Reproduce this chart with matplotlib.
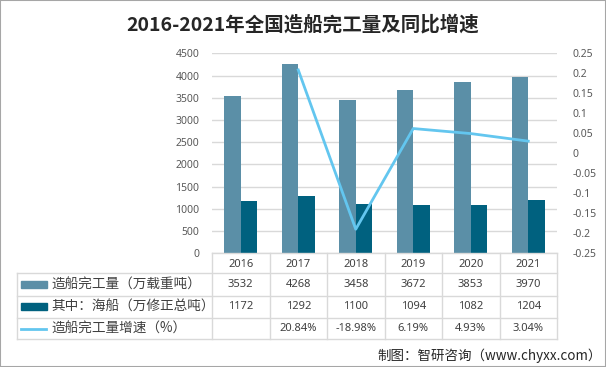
import numpy as np
import matplotlib.pyplot as plt
from matplotlib.lines import Line2D
from matplotlib.patches import Rectangle

plt.rcParams['font.family'] = ['Noto Sans CJK SC', 'DejaVu Sans']

# data
years = ['2016', '2017', '2018', '2019', '2020', '2021']
output = [3532, 4268, 3458, 3672, 3853, 3970]
ocean = [1172, 1292, 1100, 1094, 1082, 1204]
growth = [None, 0.2084, -0.1898, 0.0619, 0.0493, 0.0304]
growth_lbl = ['', '20.84%', '-18.98%', '6.19%', '4.93%', '3.04%']
names = ['造船完工量（万载重吨）', '其中：海船（万修正总吨）', '造船完工量增速（%）']

c1 = '#5B8FA7'
c2 = '#00617F'
c3 = '#63C6EF'
grid = '#D9D9D9'
txt = '#404040'
num_font = ['Noto Sans', 'DejaVu Sans']

W, H = 606, 367
fig = plt.figure(figsize=(W / 100, H / 100), dpi=100)

def fx(x):
    return x / W

def fy(y):
    return 1 - y / H

# plot area in pixels
L, R, T, B = 212, 557, 53.3, 253.3
ax = fig.add_axes([fx(L), fy(B), fx(R - L), (B - T) / H])
x = np.arange(len(years))
bw = 0.29
ax.bar(x - bw / 2, output, bw, color=c1, zorder=3)
ax.bar(x + bw / 2, ocean, bw, color=c2, zorder=3)
ax.set_xlim(-0.5, len(years) - 0.5)
ax.set_ylim(0, 4500)
ax.set_yticks(np.arange(0, 4501, 500))
ax.yaxis.grid(True, color=grid, lw=1, zorder=0)
ax.set_xticks([])
for s in ax.spines.values():
    s.set_visible(False)
ax.tick_params(axis='y', length=0, labelsize=7.5, labelcolor='#595959', pad=9)

ax2 = ax.twinx()
gx = [i for i, g in enumerate(growth) if g is not None]
gy = [g for g in growth if g is not None]
ax2.plot(gx, gy, color=c3, lw=2, zorder=4)
ax2.set_ylim(-0.25, 0.25)
ticks = np.round(np.arange(-0.25, 0.2501, 0.05), 2)
ax2.set_yticks(ticks)
ax2.set_yticklabels(['%g' % t if abs(t) > 1e-9 else '0' for t in ticks])
for s in ax2.spines.values():
    s.set_visible(False)
ax2.tick_params(axis='y', length=0, labelsize=7.5, labelcolor='#595959', pad=11)
ax2.set_xlim(-0.5, len(years) - 0.5)
for lb in ax.get_yticklabels() + ax2.get_yticklabels():
    lb.set_family(num_font)

# table below the chart
rows = [253.3, 273.3, 295.7, 317.7, 339.3]
tl = 16.7
cw = (R - L) / len(years)
def hline(y, x0, x1):
    fig.add_artist(Line2D([fx(x0), fx(x1)], [fy(y), fy(y)], color=grid, lw=1))
def vline(x0, y0, y1):
    fig.add_artist(Line2D([fx(x0), fx(x0)], [fy(y0), fy(y1)], color=grid, lw=1))

hline(rows[0], L, R)
for y in rows[1:]:
    hline(y, tl, R)
vline(tl, rows[1], rows[-1])
for i in range(len(years) + 1):
    vline(L + i * cw, rows[0], rows[-1])

fs = 8
for i, yr in enumerate(years):
    cx = fx(L + (i + 0.5) * cw)
    fig.text(cx, fy((rows[0] + rows[1]) / 2 + 1), yr, ha='center', va='center', fontsize=fs, color=txt, family=num_font)
    fig.text(cx, fy((rows[1] + rows[2]) / 2), str(output[i]), ha='center', va='center', fontsize=fs, color=txt, family=num_font)
    fig.text(cx, fy((rows[2] + rows[3]) / 2), str(ocean[i]), ha='center', va='center', fontsize=fs, color=txt, family=num_font)
    fig.text(cx, fy((rows[3] + rows[4]) / 2), growth_lbl[i], ha='center', va='center', fontsize=fs, color=txt, family=num_font)

for k, (nm, col) in enumerate(zip(names, [c1, c2, c3])):
    ym = (rows[k + 1] + rows[k + 2]) / 2
    if k < 2:
        fig.add_artist(Rectangle((fx(20.7), fy(ym + 3.3)), fx(26), 6.6 / H, color=col))
    else:
        fig.add_artist(Line2D([fx(21), fx(46)], [fy(ym), fy(ym)], color=col, lw=2))
    fig.text(fx(51.5), fy(ym), nm, ha='left', va='center', fontsize=9.8, color=txt)

fig.text(0.5, fy(25), '2016-2021年全国造船完工量及同比增速', ha='center', va='center',
         fontsize=14, fontweight='bold', color='#262626')
fig.text(fx(602), fy(356), '制图：智研咨询（www.chyxx.com）', ha='right', va='center',
         fontsize=9.7, color='#262626')

fig.add_artist(Rectangle((0, 0), 1, 1, fill=False, ec='#A6A6A6', lw=1.5, transform=fig.transFigure))

fig.savefig('out.png', dpi=100)
